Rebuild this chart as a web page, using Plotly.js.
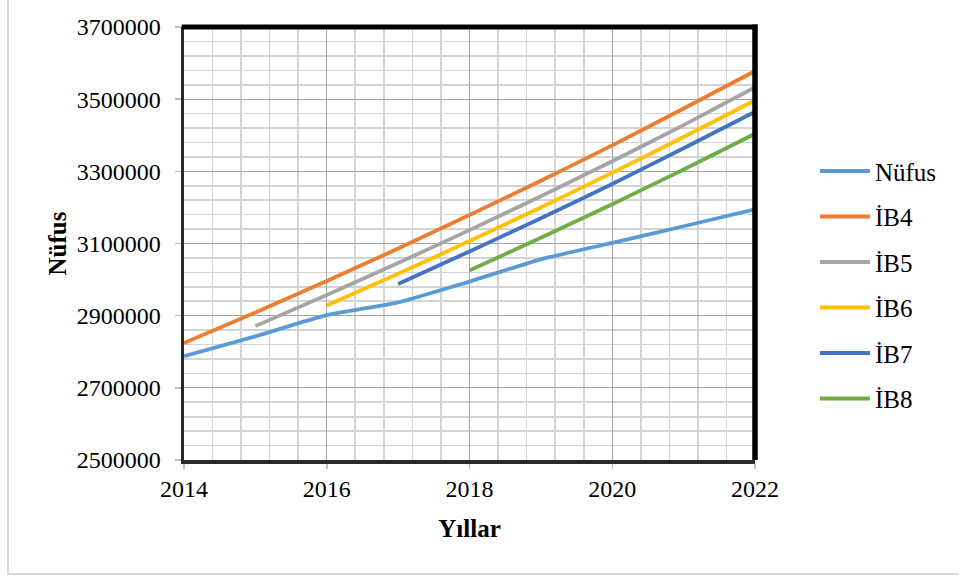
<!DOCTYPE html>
<html>
<head>
<meta charset="utf-8">
<script src="https://cdn.plot.ly/plotly-3.0.1.min.js"></script>
<style>
  html, body { margin: 0; padding: 0; background: #fff; overflow: hidden; width: 962px; height: 576px; }
  #chart { width: 962px; height: 576px; position: absolute; left: 0; top: 0; }
  #frame { position: absolute; left: 7px; top: 0px; width: 950px; height: 573px;
           border-left: 2px solid #d9d9d9; border-bottom: 2px solid #d9d9d9; pointer-events: none; }
</style>
</head>
<body>
<div id="chart"></div>
<div id="frame"></div>
<script>
// Data
const yearsNufus = [2014, 2015, 2016, 2017, 2018, 2019, 2020, 2021, 2022];
const nufus = [2787539, 2842547, 2901396, 2936803, 2994521, 3056120, 3101833, 3147818, 3194720];

const yearsIB4 = [2014, 2015, 2016, 2017, 2018, 2019, 2020, 2021, 2022];
const ib4 = [2824000, 2909000, 2996000, 3086000, 3179000, 3274000, 3372000, 3474000, 3578000];

const yearsIB5 = [2015, 2016, 2017, 2018, 2019, 2020, 2021, 2022];
const ib5 = [2871000, 2957000, 3046000, 3137000, 3231000, 3328000, 3428000, 3533000];

const yearsIB6 = [2016, 2017, 2018, 2019, 2020, 2021, 2022];
const ib6 = [2928000, 3016000, 3107000, 3200000, 3296000, 3395000, 3497000];

const yearsIB7 = [2017, 2018, 2019, 2020, 2021, 2022];
const ib7 = [2988000, 3078000, 3170000, 3265000, 3364000, 3465000];

const yearsIB8 = [2018, 2019, 2020, 2021, 2022];
const ib8 = [3025000, 3116000, 3209000, 3305000, 3404000];

const seriesNames = ['Nüfus', 'İB4', 'İB5', 'İB6', 'İB7', 'İB8'];
const colors = ['#5B9BD5', '#ED7D31', '#A5A5A5', '#FFC000', '#4472C4', '#70AD47'];
const xs = [yearsNufus, yearsIB4, yearsIB5, yearsIB6, yearsIB7, yearsIB8];
const ys = [nufus, ib4, ib5, ib6, ib7, ib8];

const traces = seriesNames.map((name, i) => ({
  x: xs[i], y: ys[i], name: name, type: 'scatter', mode: 'lines',
  line: { color: colors[i], width: 3.8, shape: 'spline', smoothing: 0.6 },
  legendgroup: 'g' + i
}));

const font = 'Liberation Serif, Times New Roman, serif';

const layout = {
  width: 962, height: 576,
  margin: { l: 184, r: 207, t: 27, b: 116 },
  paper_bgcolor: 'rgba(0,0,0,0)', plot_bgcolor: '#fff',
  font: { family: font, size: 24, color: '#000' },
  showlegend: true,
  legend: {
    x: 1.105, xanchor: 'left', y: 0.72, yanchor: 'top',
    font: { family: font, size: 25, color: '#000' },
    itemwidth: 50, tracegroupgap: 10, traceorder: 'grouped',
    bgcolor: 'rgba(0,0,0,0)'
  },
  xaxis: {
    range: [2014, 2022], tick0: 2014, dtick: 2,
    showgrid: true, gridcolor: '#a6a6a6', gridwidth: 1.3,
    minor: { tick0: 2014, dtick: 0.4, showgrid: true, gridcolor: '#d4d4d4', gridwidth: 1.6 },
    showline: true, linecolor: '#2a2a2a', linewidth: 3.5,
    ticks: 'outside', ticklen: 5, tickcolor: '#bfbfbf', tickwidth: 1.5,
    tickfont: { family: font, size: 24 },
    ticklabelstandoff: 0,
    zeroline: false,
    title: { text: '<b>Yıllar</b>', font: { family: font, size: 25 }, standoff: 19 }
  },
  yaxis: {
    range: [2500000, 3700000], tick0: 2500000, dtick: 200000,
    tickformat: 'd', separatethousands: false,
    showgrid: true, gridcolor: '#a6a6a6', gridwidth: 1.3,
    minor: { tick0: 2500000, dtick: 40000, showgrid: true, gridcolor: '#d4d4d4', gridwidth: 1.6 },
    showline: true, linecolor: '#2a2a2a', linewidth: 3.5,
    ticks: 'outside', ticklen: 6, tickcolor: '#bfbfbf', tickwidth: 1.5,
    tickfont: { family: font, size: 24 },
    ticklabelstandoff: 9,
    zeroline: false,
    title: { text: '<b>Nüfus</b>', font: { family: font, size: 25 }, standoff: 4 }
  },
  shapes: [
    { type: 'line', xref: 'paper', yref: 'paper', x0: -0.004, x1: 1.004, y0: 1, y1: 1,
      line: { color: '#000', width: 5 } },
    { type: 'line', xref: 'paper', yref: 'paper', x0: 1, x1: 1, y0: 0, y1: 1.006,
      line: { color: '#000', width: 5.5 } }
  ]
};

Plotly.newPlot('chart', traces, layout, { displayModeBar: false, staticPlot: true });
</script>
</body>
</html>
